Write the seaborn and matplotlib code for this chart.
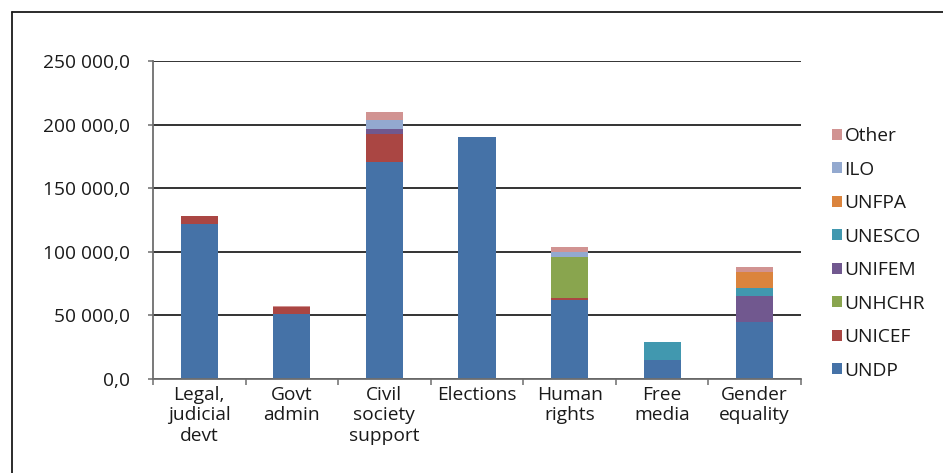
import numpy as np
import pandas as pd
import seaborn as sns
import matplotlib.pyplot as plt
from matplotlib.lines import Line2D
from matplotlib.patches import Patch
from matplotlib.ticker import FuncFormatter, FixedLocator

categories = ["Legal,\njudicial\ndevt", "Govt\nadmin", "Civil\nsociety\nsupport",
              "Elections", "Human\nrights", "Free\nmedia", "Gender\nequality"]
agencies = ["UNDP", "UNICEF", "UNHCHR", "UNIFEM", "UNESCO", "UNFPA", "ILO", "Other"]

UNDP   = [121500, 51100, 170800, 190000, 61800, 15200, 44500]
UNICEF = [7000,   5200,  22000,  0,      1600,  0,     0]
UNHCHR = [0,      0,     0,      0,      32700, 0,     0]
UNIFEM = [0,      0,     3900,   0,      0,     0,     21000]
UNESCO = [0,      0,     0,      0,      0,     14100, 5700]
UNFPA  = [0,      0,     0,      0,      0,     0,     12600]
ILO    = [0,      0,     7100,   0,      4000,  0,     0]
Other  = [0,      1300,  6300,   0,      3900,  0,     3900]

colors = ["#4572A7", "#AA4643", "#89A54E", "#71588F", "#4198AF", "#DB843D", "#93A9CF", "#D19392"]

series = [UNDP, UNICEF, UNHCHR, UNIFEM, UNESCO, UNFPA, ILO, Other]
cum = np.cumsum(np.array(series, dtype=float), axis=0)

sns.set_theme(style="white")
plt.rcParams['font.family'] = ['Open Sans', 'DejaVu Sans']
fs = 13.8

fig = plt.figure(figsize=(9.43, 4.73), dpi=100)
ax = fig.add_axes([153/943, 1-379/473, (801-153)/943, (379-61)/473])

# draw from top of stack to bottom so lower segments cover upper totals
for i in range(len(agencies) - 1, -1, -1):
    df = pd.DataFrame({"cat": categories, "val": cum[i]})
    sns.barplot(data=df, x="cat", y="val", color=colors[i], width=0.4,
                saturation=1, ax=ax, zorder=3, linewidth=0)

ax.set_xlim(-0.5, len(categories) - 0.5)
ax.set_ylim(0, 250000)
ax.set_yticks(np.arange(0, 250001, 50000))
ax.yaxis.set_major_formatter(FuncFormatter(lambda v, p: f"{int(v):,}".replace(",", " ") + ",0"))
ax.grid(axis="y", color="#111111", linewidth=1.2, zorder=0)
ax.set_axisbelow(True)
ax.set_xlabel("")
ax.set_ylabel("")

for s in ["top", "right"]:
    ax.spines[s].set_visible(False)
for s in ["left", "bottom"]:
    ax.spines[s].set_color("#6e6e6e")
    ax.spines[s].set_linewidth(1.3)
    ax.spines[s].set_zorder(4)

ax.tick_params(axis="y", which="major", length=3.6, width=1.1, color="#6e6e6e",
               pad=13, labelsize=fs, labelcolor="#1a1a1a", left=True)
ax.tick_params(axis="x", which="major", length=0, pad=5, labelsize=fs, labelcolor="#1a1a1a")
ax.xaxis.set_minor_locator(FixedLocator(np.arange(-0.5, len(categories), 1.0)))
ax.tick_params(axis="x", which="minor", length=4, width=1.1, color="#6e6e6e", bottom=True)
for lab in ax.get_xticklabels():
    lab.set_linespacing(1.18)

handles = [Patch(facecolor=colors[i], edgecolor="none", label=agencies[i])
           for i in range(len(agencies) - 1, -1, -1)]
leg = fig.legend(handles=handles, loc="upper left", bbox_to_anchor=(832/943, 1-127/473),
                 frameon=False, fontsize=fs, handlelength=0.5, handleheight=0.5,
                 handletextpad=0.15, labelspacing=0.81, borderpad=0, borderaxespad=0)
for t in leg.get_texts():
    t.set_color("#1a1a1a")

# outer frame
fig.add_artist(Line2D([12/943, 12/943], [0, 1-12/473], color="#1a1a1a", linewidth=1.3,
                      transform=fig.transFigure))
fig.add_artist(Line2D([12/943, 1], [1-12/473, 1-12/473], color="#1a1a1a", linewidth=1.3,
                      transform=fig.transFigure))

fig.savefig("out.png", dpi=100, facecolor="white")
